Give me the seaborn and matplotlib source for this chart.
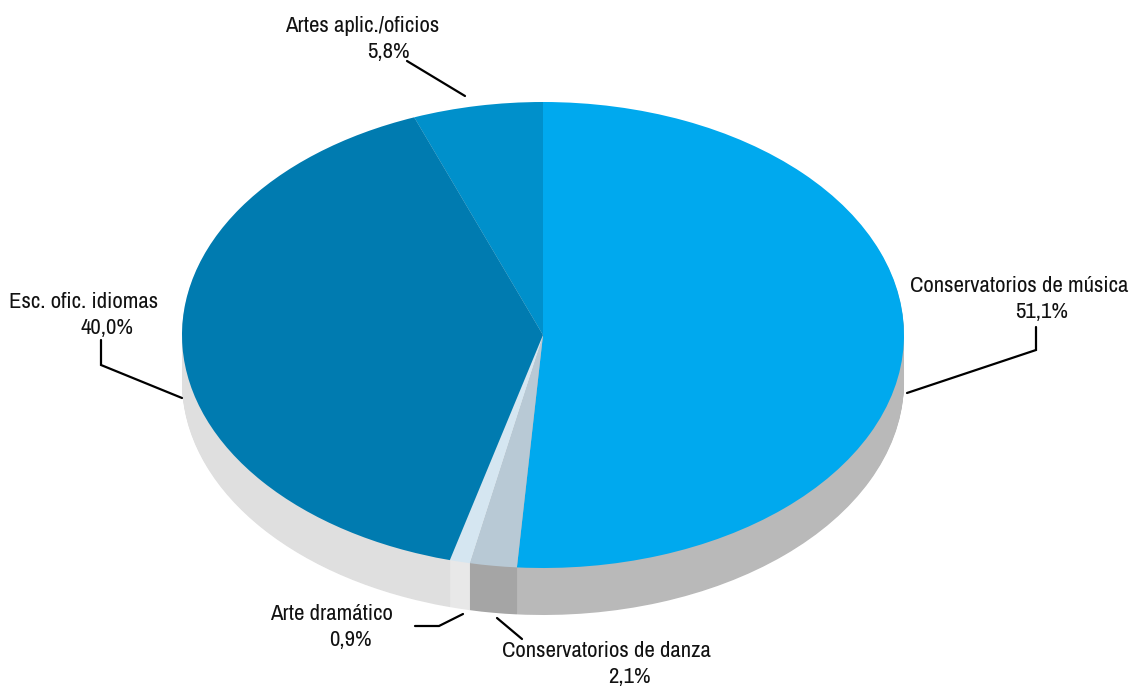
import seaborn as sns
import matplotlib.pyplot as plt
from matplotlib.lines import Line2D

categories = ['Conservatorios de música', 'Conservatorios de danza', 'Arte dramático',
              'Esc. ofic. idiomas', 'Artes aplic./oficios']
shares = [51.1, 2.1, 0.9, 40.0, 5.8]
share_labels = ['51,1%', '2,1%', '0,9%', '40,0%', '5,8%']

top_colors = ['#00a9ee', '#b8c9d5', '#d5e6f1', '#007bb0', '#0090cb']
side_colors = ['#b9b9b9', '#a5a5a5', '#e8e8e8', '#dfdfdf', '#cccccc']

W, H = 1131, 686
CX, CY, RX, RY = 543, 335, 361, 233
DEPTH = 47

sns.set_theme(style='white')
plt.rcParams['font.family'] = ['Archivo Narrow', 'Liberation Sans', 'DejaVu Sans']

fig = plt.figure(figsize=(W / 100, H / 100), dpi=100)
ax = fig.add_axes([0, 0, 1, 1])


def draw_pie(colors, offset):
    ax.pie(shares, colors=colors, startangle=90, counterclock=False, radius=1,
           center=(0, -offset / RY), frame=True, wedgeprops={'linewidth': 0})


# the thickness of the disc is a stack of grey pies
for offset in range(DEPTH, 0, -1):
    draw_pie(side_colors, offset)
draw_pie(top_colors, 0)

ax.set_aspect('auto')
ax.set_xlim(-CX / RX, (W - CX) / RX)
ax.set_ylim((CY - H) / RY, CY / RY)
ax.axis('off')


def px(x, y):
    return x / W, 1 - y / H


def leader(xs, ys):
    pts = [px(x, y) for x, y in zip(xs, ys)]
    fig.add_artist(Line2D([p[0] for p in pts], [p[1] for p in pts], color='black',
                          linewidth=1.6, solid_joinstyle='miter', transform=fig.transFigure))


leader([1036, 1036, 907], [327, 350, 393])
leader([497, 522], [618, 639])
leader([415, 439, 463], [626, 626, 614])
leader([101, 101, 182], [340, 365, 398])
leader([407, 465], [61, 96])

# name centre x, share centre x, name baseline y (share sits 26 px lower)
label_pos = [(1019, 1042, 292), (606, 629, 657), (331, 350, 620), (84, 107, 308), (362, 388, 32)]
for name, share, (x_name, x_share, y) in zip(categories, share_labels, label_pos):
    fig.text(*px(x_name, y), name, ha='center', va='baseline', fontsize=16.4, color='#111111')
    fig.text(*px(x_share, y + 26), share, ha='center', va='baseline', fontsize=16.4, color='#111111')

fig.savefig('out.png', dpi=100)
